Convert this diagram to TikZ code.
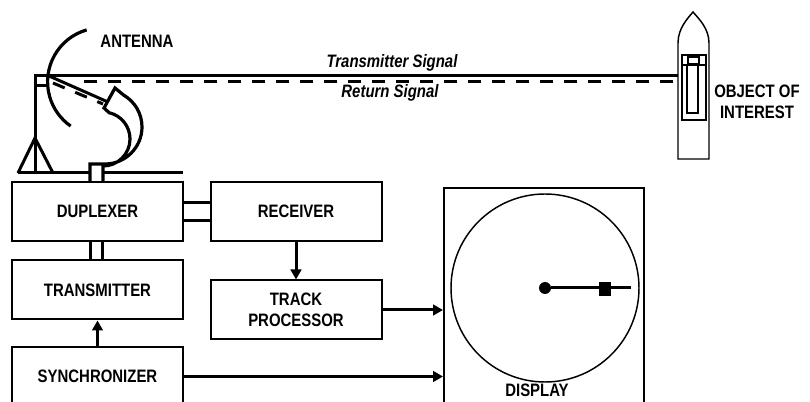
\documentclass[tikz,border=0pt]{standalone}
\usepackage{fontspec}
\setmainfont{Liberation Sans}[FakeStretch=0.83]
\usetikzlibrary{arrows.meta}

\begin{document}
\begin{tikzpicture}[x=0.75pt,y=-0.75pt,
  font=\fontsize{13.5}{15.75}\selectfont\bfseries,
  block/.style={draw,line width=1.5pt,minimum width=128.25pt,minimum height=44.25pt,inner sep=0pt,align=center},
  link/.style={line width=2.25pt},
  flow/.style={line width=2.25pt,-{Triangle[length=7.5pt,width=8pt]}},
  horn/.style={line width=2.4pt},
  echo/.style={line width=2.25pt,dash pattern=on 9.5pt off 8.5pt},
  hull/.style={line width=1.1pt},
  sig/.style={font=\fontsize{13.5}{15.75}\selectfont\bfseries\itshape}]
\clip (0,0) rectangle (810,402);
\node[block] (dup) at (97.5,211.5) {DUPLEXER};
\node[block] (rec) at (296,211.5) {RECEIVER};
\node[block] (trans) at (97.5,290) {TRANSMITTER};
\node[block] (track) at (296,310) {TRACK\\PROCESSOR};
\node[block,minimum height=44.25pt] (sync) at (97.5,376.5) {SYNCHRONIZER};
\node[draw,line width=1.5pt,minimum width=150pt,minimum height=162.75pt,inner sep=0pt] (display) at (544,296.5) {};
\node[draw,circle,line width=1.1pt,minimum size=141pt,inner sep=0pt] (scope) at (545,288) {};
\node[circle,fill,minimum size=9pt,inner sep=0pt] (origin) at (scope.center) {};
\node[fill,minimum width=9pt,minimum height=10.5pt,inner sep=0pt] (target) at (605,289) {};
\coordinate (sweep) at (631,288);
\node (disptxt) at (537,390) {DISPLAY};
\node (ant) at (137,41) {ANTENNA};
\node[sig] (tx) at (392,63) {Transmitter Signal};
\node[sig] (rx) at (390,93) {Return Signal};
\node[align=center] (obj) at (757,102) {OBJECT OF\\INTEREST};
\coordinate (ship) at (678,76);
\coordinate (shipecho) at (673,82);

\draw[link] ([yshift=6.4pt]dup.east) -- ([yshift=6.4pt]rec.west);
\draw[link] ([yshift=-6.4pt]dup.east) -- ([yshift=-6.4pt]rec.west);
\draw[link] ([xshift=-5.6pt]dup.south) -- ([xshift=-5.6pt]trans.north);
\draw[link] ([xshift=4.1pt]dup.south) -- ([xshift=4.1pt]trans.north);
\draw[flow] (rec) -- (track);
\draw[flow] (sync) -- (trans);
\draw[flow] (track.east) -- (track.east -| display.west);
\draw[flow] (sync.east) -- (sync.east -| display.west);
\draw[link] (origin) -- (sweep);

\draw[link] (ship) -- (35,76) -- (35,173);
\draw[link] (35,86) -- (48,86);
\draw[link] (18,173) -- (35,138) -- (53,173);
\draw[link] (18,173) -- (90,173) (103,173) -- (183,173);
\draw[echo] (shipecho) -- (74,82);
\draw[echo] (53,83) -- (103,104);
\draw[link] (49,76) -- (108,102);
\draw[horn] (86.7,29.9) arc[start angle=106,end angle=235,radius=40.5pt];
\draw[horn] (90,182) -- (90,164) -- (105,164)
  .. controls (125.4,164) and (142,147.4) .. (142,127)
  .. controls (142,113.8) and (134.9,101.6) .. (123.5,95)
  -- (115,88) -- (104,108) -- (109.1,112.7)
  .. controls (121.3,115.5) and (130,126.4) .. (130,139)
  .. controls (130,153.9) and (117.9,166) .. (103,166) -- (103,182);

\draw[hull] (678,159) -- (678,43) .. controls (678,28) and (688,18) .. (693,12)
  .. controls (698,18) and (709,28) .. (709,43) -- (709,159) -- cycle;
\draw[hull] (682,55) rectangle (706,120);
\draw[hull] (682,65) -- (706,65);
\draw[hull] (688,57) rectangle (699,64);
\draw[hull] (687,65) rectangle (698,113);
\end{tikzpicture}
\end{document}
